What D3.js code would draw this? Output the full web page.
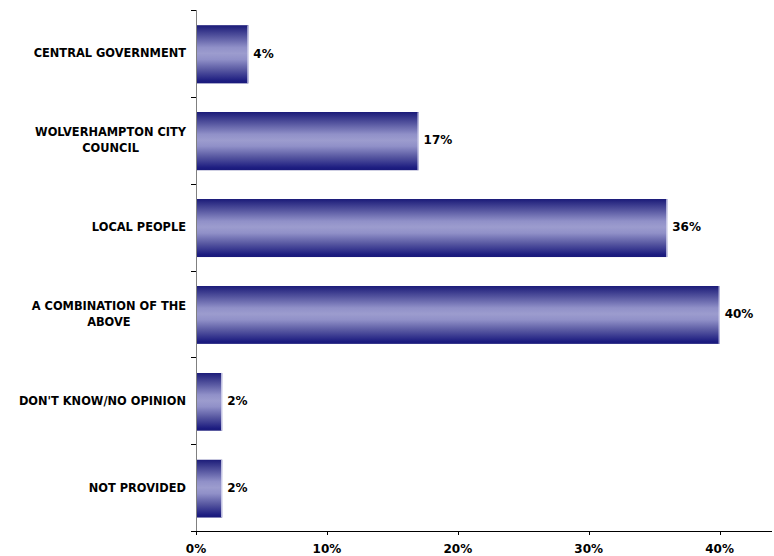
<!DOCTYPE html>
<html><head><meta charset="utf-8">
<script src="https://cdn.jsdelivr.net/npm/d3@7/dist/d3.min.js"></script>
<style>body{margin:0;background:#fff;} svg{display:block;}</style>
</head><body>
<svg id="c" width="774" height="556"></svg>
<script>
const categories = [["CENTRAL GOVERNMENT"],["WOLVERHAMPTON CITY","COUNCIL"],["LOCAL PEOPLE"],["A COMBINATION OF THE","ABOVE"],["DON'T KNOW/NO OPINION"],["NOT PROVIDED"]];
const values = [4,17,36,40,2,2];
const ticks = [0,10,20,30,40];
const tickLabels = ["0%","10%","20%","30%","40%"];

const svg = d3.select("#c");
const font = "Verdana, 'DejaVu Sans', sans-serif";
const x = d3.scaleLinear().domain([0,44]).range([196,772]);
const y = d3.scaleBand().domain(d3.range(categories.length)).range([10,531]).paddingInner(0.31).paddingOuter(0.155);

const defs = svg.append("defs");
const g = defs.append("linearGradient").attr("id","bg").attr("x1",0).attr("x2",0).attr("y1",0).attr("y2",1);
[[0,"#ffffff"],[0.03,"#ffffff"],[0.035,"#1c1c7a"],[0.06,"#24247e"],[0.22,"#5656a0"],[0.4,"#9090c8"],[0.5,"#9c9cce"],[0.6,"#9090c8"],[0.78,"#5656a0"],[0.96,"#1c1c80"],[1,"#1a1a7a"]]
  .forEach(([o,c])=>g.append("stop").attr("offset",o).attr("stop-color",c));

const bars = svg.append("g");
values.forEach((v,i)=>{
  bars.append("rect").attr("x",x(0)).attr("y",y(i)).attr("width",x(v)-x(0)).attr("height",y.bandwidth()).attr("fill","url(#bg)");
  bars.append("line").attr("x1",x(v)-0.5).attr("x2",x(v)-0.5).attr("y1",y(i)+2).attr("y2",y(i)+y.bandwidth()).attr("stroke","#d8d8f0").attr("stroke-width",1);
  svg.append("text").attr("x",x(v)+5).attr("y",y(i)+y.bandwidth()/2).attr("dy","0.35em")
    .attr("font-family",font).attr("font-weight","bold").attr("font-size","12px").attr("fill","#000").text(v+"%");
});

// y axis
const ya = svg.append("g");
ya.append("line").attr("x1",196.5).attr("x2",196.5).attr("y1",10).attr("y2",531).attr("stroke","#808080");
d3.range(categories.length+1).forEach(i=>{
  const yy = Math.round(10 + i*(521/6))+0.5;
  ya.append("line").attr("x1",191).attr("x2",196).attr("y1",yy).attr("y2",yy).attr("stroke","#000");
});
categories.forEach((lines,i)=>{
  const cy = y(i)+y.bandwidth()/2;
  const t = svg.append("text").attr("font-family",font).attr("font-weight","bold").attr("font-size","11.4px").attr("fill","#000");
  const n = lines.length;
  const spans = lines.map((l,k)=>t.append("tspan").attr("y",cy + (k-(n-1)/2)*16).attr("dy","0.35em").text(l));
  const widths = spans.map(s=>s.node().getComputedTextLength());
  const maxW = d3.max(widths);
  const center = 186 - maxW/2;
  spans.forEach(s=>s.attr("x",center).attr("text-anchor","middle"));
});

// x axis
const xa = svg.append("g");
xa.append("line").attr("x1",196).attr("x2",772).attr("y1",531.5).attr("y2",531.5).attr("stroke","#000");
ticks.forEach((t,i)=>{
  const xx = Math.round(x(t))+0.5;
  xa.append("line").attr("x1",xx).attr("x2",xx).attr("y1",531).attr("y2",535).attr("stroke","#000");
  xa.append("text").attr("x",x(t)).attr("y",549).attr("dy","0.35em").attr("text-anchor","middle")
    .attr("font-family",font).attr("font-weight","bold").attr("font-size","12px").text(tickLabels[i]);
});
</script>
</body></html>
